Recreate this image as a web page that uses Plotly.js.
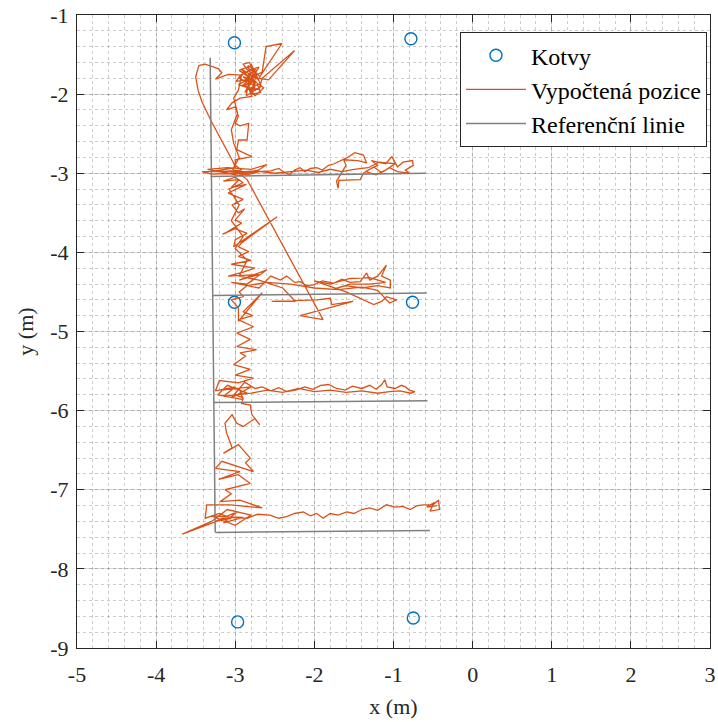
<!DOCTYPE html>
<html>
<head>
<meta charset="utf-8">
<script src="https://cdn.plot.ly/plotly-3.0.1.min.js"></script>
<style>html,body{margin:0;padding:0;background:#fff;}#chart{width:718px;height:722px;}</style>
</head>
<body>
<div id="chart"></div>
<script>
// Anchors (Kotvy)
const anchorX = [-3.01, -0.78, -3.01, -0.76, -2.97, -0.75];
const anchorY = [-1.35, -1.30, -4.63, -4.63, -8.67, -8.62];

// Reference lines (Referenční linie), segments separated by null
const refX = [-3.317, -3.253, null, -3.31, -0.60, null, -3.28, -0.58, null, -3.28, -0.57, null, -3.25, -0.54];
const refY = [-1.54, -7.54, null, -3.04, -3.00, null, -4.545, -4.515, null, -5.898, -5.876, null, -7.54, -7.515];

// Computed position (Vypočtená pozice), [x, y] pairs
const pathXY = [
[-2.86,-1.84],[-2.95,-1.80],[-2.88,-1.72],[-2.80,-1.86],[-2.92,-1.90],[-2.78,-1.78],[-2.70,-1.66],[-2.84,-1.70],[-2.90,-1.62],[-2.82,-1.60],[-2.76,-1.74],[-2.86,-1.95],[-2.72,-1.88],[-2.68,-1.98],[-2.80,-2.00],[-2.74,-1.84],
[-2.90,-1.78],[-2.76,-1.90],[-2.84,-1.64],[-2.73,-1.70],[-2.88,-1.98],[-2.78,-1.83],[-2.93,-1.68],[-2.70,-1.82],[-2.81,-1.72],[-2.86,-2.02],[-2.67,-1.90],[-2.80,-1.62],[-2.75,-1.95],[-2.96,-1.88],
[-2.66,-1.72],[-2.61,-1.40],[-2.41,-1.36],[-2.69,-1.78],
[-2.78,-1.68],[-2.93,-1.76],[-2.99,-1.84],[-2.87,-1.82],[-2.82,-1.92],[-2.70,-1.94],[-2.66,-1.80],
[-2.29,-1.48],[-2.25,-1.45],[-2.58,-1.82],
[-2.76,-1.79],[-2.83,-1.75],[-2.88,-1.88],[-2.79,-1.97],[-2.73,-1.74],[-2.85,-1.66],[-2.95,-1.70],[-2.81,-1.80],[-2.64,-1.92],[-2.75,-2.02],[-2.84,-1.90],
[-2.79,-2.03],[-2.94,-2.05],[-3.04,-2.11],[-3.11,-2.20],[-3.00,-2.16],[-2.96,-2.28],[-3.00,-2.37],[-2.94,-2.40],[-2.83,-2.37],[-2.85,-2.58],[-2.96,-2.58],[-2.98,-2.70],[-2.90,-2.74],[-2.79,-2.79],[-3.00,-2.83],[-3.00,-2.90],
[-2.92,-2.96],[-3.20,-2.98],[-3.42,-2.98],[-3.30,-3.01],[-2.95,-3.00],[-2.70,-2.96],[-2.95,-3.03],[-3.35,-2.95],[-3.10,-2.93],[-2.80,-2.95],[-2.60,-2.89],[-2.75,-2.99],[-3.05,-2.97],[-2.85,-3.02],[-2.70,-2.98],
[-2.55,-2.97],[-2.45,-2.94],[-2.38,-2.99],[-2.31,-3.02],[-2.25,-2.96],[-2.18,-2.93],[-2.12,-2.98],[-2.05,-2.94],[-1.97,-2.93],[-1.90,-2.96],[-1.82,-2.90],[-1.75,-2.88],[-1.68,-2.85],[-1.58,-2.80],[-1.49,-2.74],[-1.38,-2.77],[-1.34,-2.87],[-1.45,-2.84],[-1.63,-2.83],[-1.60,-2.90],[-1.72,-3.10],[-1.70,-3.19],[-1.69,-3.09],[-1.42,-3.08],[-1.38,-3.00],[-1.30,-2.95],[-1.20,-2.90],[-1.28,-2.84],[-1.10,-2.88],[-1.02,-2.79],[-0.95,-2.92],[-0.88,-2.86],[-0.76,-2.84],[-0.75,-2.90],[-0.85,-2.96],[-0.80,-3.00],[-0.95,-2.98],[-1.05,-2.93],[-1.15,-2.99],[-1.25,-2.92],[-1.35,-2.98],[-1.22,-3.02],[-1.10,-2.96],[-0.98,-2.88],[-1.18,-2.86],[-1.32,-2.93],
[-1.50,-2.95],[-1.65,-2.98],[-1.80,-2.95],[-1.95,-2.99],[-2.10,-2.96],[-2.30,-2.98],[-2.50,-3.00],[-2.75,-2.97],[-3.00,-2.99],[-3.25,-2.97],[-3.00,-2.93],
[-3.02,-2.87],[-3.30,-2.35],[-3.42,-2.10],[-3.47,-1.95],[-3.50,-1.78],[-3.46,-1.64],[-3.38,-1.62],[-3.32,-1.64],[-3.21,-1.68],[-3.17,-1.73],[-3.25,-1.81],[-3.09,-1.75],[-2.92,-1.76],
[-2.96,-1.95],[-3.02,-2.05],[-2.97,-2.24],[-3.05,-2.45],[-3.02,-2.62],[-2.95,-2.80],[-3.03,-2.95],
[-2.85,-3.08],[-1.89,-4.85],[-2.18,-4.80],[-1.51,-4.62],[-1.78,-4.66],[-1.80,-4.58],[-1.97,-4.60],[-2.54,-4.62],[-2.24,-4.62],[-2.40,-4.45],[-2.70,-4.35],[-2.95,-4.30],
[-2.85,-4.10],[-3.00,-3.95],[-2.90,-3.80],[-3.05,-3.60],[-2.95,-3.40],[-3.08,-3.20],[-2.90,-3.12],[-3.00,-3.05],
[-3.15,-3.10],[-2.95,-3.08],[-3.05,-3.18],[-2.86,-3.14],[-3.09,-3.25],[-2.90,-3.33],[-3.04,-3.40],[-2.96,-3.50],[-2.88,-3.45],[-3.00,-3.59],[-2.92,-3.63],[-3.13,-3.76],[-3.16,-3.77],[-3.00,-3.70],[-2.85,-3.76],[-3.00,-3.84],[-3.02,-3.93],[-2.47,-3.55],[-2.92,-3.88],[-2.96,-3.93],[-2.83,-3.99],[-2.96,-4.05],[-2.80,-4.10],[-3.05,-4.15],[-2.75,-4.20],[-2.90,-4.25],[-3.09,-4.30],[-2.70,-4.28],[-2.95,-4.35],[-2.60,-4.22],[-2.85,-4.40],[-3.05,-4.38],[-2.70,-4.45],[-2.55,-4.30],
[-2.43,-4.35],[-2.35,-4.30],[-2.25,-4.38],[-2.18,-4.37],[-2.10,-4.42],[-2.01,-4.41],[-1.90,-4.36],[-1.76,-4.39],[-1.65,-4.34],[-1.55,-4.38],[-1.42,-4.37],[-1.34,-4.26],[-1.30,-4.35],[-1.20,-4.30],[-1.09,-4.16],[-1.15,-4.30],[-1.04,-4.35],[-1.04,-4.45],[-1.20,-4.42],[-1.40,-4.45],[-1.60,-4.42],[-1.75,-4.46],[-1.55,-4.40],[-1.30,-4.40],[-1.10,-4.38],[-1.30,-4.32],[-1.55,-4.33],[-1.80,-4.40],[-2.00,-4.36],
[-1.60,-4.50],[-1.25,-4.66],[-1.15,-4.62],[-1.09,-4.56],[-0.96,-4.60],[-1.05,-4.64],[-1.20,-4.48],[-1.40,-4.44],[-1.70,-4.47],[-2.00,-4.45],[-2.30,-4.40],[-2.60,-4.38],[-2.85,-4.42],
[-2.95,-4.50],[-2.90,-4.56],[-3.05,-4.60],[-2.96,-4.70],
[-2.96,-4.87],[-2.66,-4.51],[-2.90,-4.75],[-2.78,-4.80],
[-2.96,-4.85],[-2.77,-4.94],[-2.98,-5.02],[-2.81,-5.10],[-2.98,-5.19],[-2.73,-5.23],[-2.94,-5.27],[-2.87,-5.31],[-3.02,-5.42],[-2.81,-5.48],[-3.00,-5.55],[-2.77,-5.59],[-2.96,-5.65],
[-3.20,-5.62],[-3.25,-5.75],[-3.00,-5.70],[-3.15,-5.82],[-2.85,-5.78],[-3.10,-5.68],[-3.22,-5.80],[-2.90,-5.86],[-2.95,-5.72],[-3.18,-5.74],[-2.80,-5.70],[-3.05,-5.84],[-2.88,-5.64],
[-2.75,-5.72],[-2.66,-5.70],[-2.55,-5.75],[-2.45,-5.71],[-2.35,-5.76],[-2.24,-5.74],[-2.12,-5.70],[-2.02,-5.73],[-1.92,-5.68],[-1.82,-5.67],[-1.72,-5.72],[-1.61,-5.74],[-1.52,-5.69],[-1.40,-5.72],[-1.30,-5.68],[-1.22,-5.73],[-1.15,-5.67],[-1.11,-5.61],[-1.08,-5.70],[-0.98,-5.72],[-0.90,-5.68],[-0.85,-5.70],[-0.80,-5.74],[-0.73,-5.76],[-0.78,-5.78],[-0.92,-5.75],[-1.05,-5.76],
[-1.20,-5.78],[-1.40,-5.75],[-1.60,-5.77],[-1.80,-5.74],[-2.00,-5.76],[-2.20,-5.72],[-2.40,-5.77],[-2.60,-5.74],[-2.80,-5.78],[-3.00,-5.80],[-2.90,-5.84],
[-2.92,-5.91],[-2.81,-5.93],[-2.79,-6.05],[-2.69,-6.18],[-2.75,-6.10],[-2.90,-6.20],[-2.98,-6.16],[-3.04,-6.05],[-3.13,-6.16],[-3.11,-6.28],[-3.04,-6.47],[-3.15,-6.54],[-2.96,-6.43],[-2.81,-6.60],[-2.87,-6.66],[-2.77,-6.77],[-3.17,-6.64],[-3.25,-6.73],[-2.94,-6.77],[-3.21,-6.87],[-2.96,-6.81],[-2.81,-6.92],[-3.13,-7.00],[-3.05,-7.05],[-3.19,-7.15],[-2.94,-7.13],[-2.66,-7.23],[-3.06,-7.19],[-3.36,-7.19],[-3.38,-7.36],
[-3.20,-7.30],[-3.05,-7.36],[-3.25,-7.40],[-2.98,-7.28],[-3.15,-7.42],[-2.90,-7.35],[-3.30,-7.33],[-3.00,-7.45],[-2.80,-7.32],[-3.10,-7.25],[-3.30,-7.40],[-3.67,-7.56],[-3.30,-7.42],[-3.10,-7.35],
[-2.85,-7.36],[-2.72,-7.31],[-2.56,-7.32],[-2.45,-7.36],[-2.35,-7.34],[-2.25,-7.30],[-2.14,-7.28],[-2.05,-7.33],[-1.97,-7.30],[-1.89,-7.36],[-1.80,-7.30],[-1.70,-7.32],[-1.59,-7.28],[-1.50,-7.30],[-1.40,-7.25],[-1.30,-7.23],[-1.20,-7.26],[-1.09,-7.19],[-0.98,-7.22],[-0.88,-7.21],[-0.79,-7.25],[-0.70,-7.20],[-0.62,-7.19],[-0.50,-7.19],[-0.43,-7.13],[-0.42,-7.25],[-0.54,-7.27],[-0.48,-7.16],[-0.58,-7.22],[-0.45,-7.20]
];

const xTickVals = [-5, -4, -3, -2, -1, 0, 1, 2, 3];
const xTickText = ["-5", "-4", "-3", "-2", "-1", "0", "1", "2", "3"];
const yTickVals = [-9, -8, -7, -6, -5, -4, -3, -2, -1];
const yTickText = ["-9", "-8", "-7", "-6", "-5", "-4", "-3", "-2", "-1"];

const legendNames = ["Kotvy", "Vypočtená pozice", "Referenční linie"];

const FONT = "Liberation Serif, DejaVu Serif, serif";
const pathX = pathXY.map(p => p[0]);
const pathY = pathXY.map(p => p[1]);

const traces = [
  {x: anchorX, y: anchorY, type: 'scatter', mode: 'markers', name: legendNames[0], legendgroup: 'a',
   marker: {symbol: 'circle-open', size: 12, color: '#0072BD', line: {width: 1.4, color: '#0072BD'}}},
  {x: pathX, y: pathY, type: 'scatter', mode: 'lines', name: legendNames[1], legendgroup: 'b',
   line: {color: '#D95319', width: 1.3}},
  {x: refX, y: refY, type: 'scatter', mode: 'lines', name: legendNames[2], legendgroup: 'c',
   line: {color: '#808080', width: 1.5}}
];

const axisCommon = {
  showline: true, linecolor: '#262626', linewidth: 1, mirror: 'ticks',
  ticks: 'inside', ticklen: 7, tickwidth: 1, tickcolor: '#262626',
  showgrid: true, gridcolor: 'rgba(0,0,0,0.14)', gridwidth: 1,
  zeroline: false, tickmode: 'array',
  tickfont: {family: FONT, size: 22, color: '#262626'},
  minor: {dtick: 0.2, showgrid: true, gridcolor: 'rgba(0,0,0,0.2)', griddash: 'dot', gridwidth: 1, ticks: ''}
};

const layout = {
  width: 718, height: 722,
  margin: {l: 77, r: 8, t: 15, b: 74},
  font: {family: FONT, color: '#262626'},
  paper_bgcolor: '#ffffff', plot_bgcolor: '#ffffff',
  showlegend: true,
  xaxis: Object.assign({}, axisCommon, {
    range: [-5, 3], tickvals: xTickVals, ticktext: xTickText, ticklabelstandoff: 7,
    title: {text: 'x (m)', font: {family: FONT, size: 22, color: '#262626'}, standoff: 12}
  }),
  yaxis: Object.assign({}, axisCommon, {
    range: [-9, -1], tickvals: yTickVals, ticktext: yTickText, ticklabelstandoff: 3,
    title: {text: 'y (m)', font: {family: FONT, size: 22, color: '#262626'}, standoff: 10}
  }),
  legend: {
    x: 0.605, y: 0.973, xanchor: 'left', yanchor: 'top',
    bgcolor: '#ffffff', bordercolor: '#262626', borderwidth: 1,
    font: {family: FONT, size: 24, color: '#000000'},
    traceorder: 'grouped', tracegroupgap: 0, itemwidth: 60
  }
};

Plotly.newPlot('chart', traces, layout, {displayModeBar: false, staticPlot: true});
</script>
</body>
</html>
